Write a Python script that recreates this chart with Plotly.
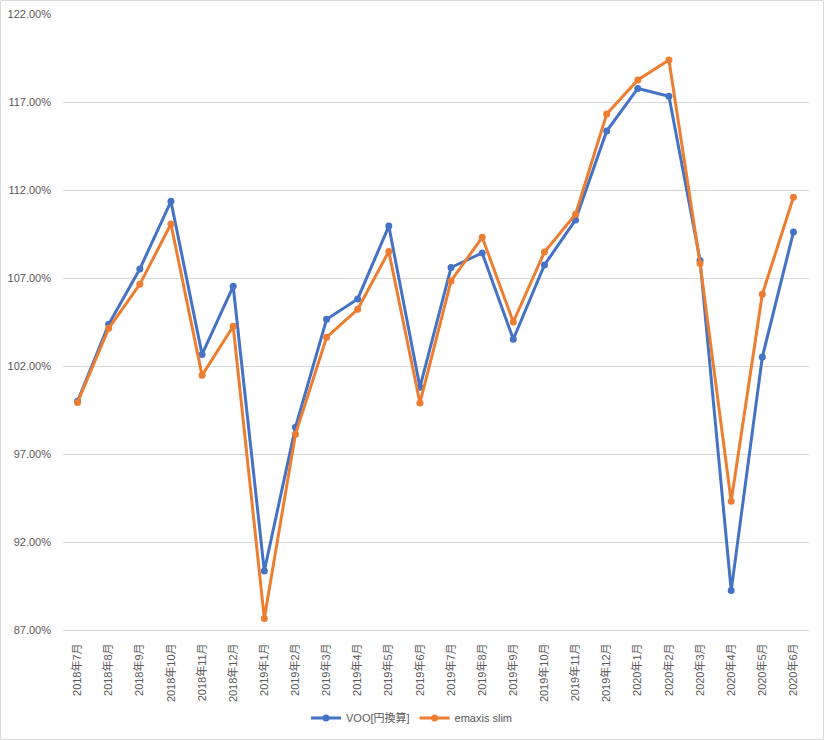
import plotly.graph_objects as go

months = ["2018年7月", "2018年8月", "2018年9月", "2018年10月", "2018年11月", "2018年12月",
          "2019年1月", "2019年2月", "2019年3月", "2019年4月", "2019年5月", "2019年6月",
          "2019年7月", "2019年8月", "2019年9月", "2019年10月", "2019年11月", "2019年12月",
          "2020年1月", "2020年2月", "2020年3月", "2020年4月", "2020年5月", "2020年6月"]

voo = [1.0000, 1.0437, 1.0751, 1.1136, 1.0266, 1.0653,
       0.9035, 0.9852, 1.0465, 1.0581, 1.0995, 1.0079,
       1.0760, 1.0842, 1.0352, 1.0774, 1.1030, 1.1535,
       1.1777, 1.1733, 1.0800, 0.8924, 1.0251, 1.0961]

emaxis = [0.9993, 1.0414, 1.0664, 1.1007, 1.0147, 1.0426,
          0.8766, 0.9812, 1.0363, 1.0522, 1.0851, 0.9990,
          1.0683, 1.0931, 1.0450, 1.0848, 1.1062, 1.1632,
          1.1825, 1.1939, 1.0782, 0.9431, 1.0608, 1.1159]

y_ticks = [0.87, 0.92, 0.97, 1.02, 1.07, 1.12, 1.17, 1.22]

W, H = 824, 740
ML, MR, MT, MB = 62, 15, 14, 110
FONT = "Liberation Sans, Noto Sans CJK JP, sans-serif"

fig = go.Figure()
fig.add_trace(go.Scatter(x=months, y=voo, mode="lines+markers", name="VOO[円換算]",
                         line=dict(color="#4472C4", width=3),
                         marker=dict(color="#4472C4", size=7)))
fig.add_trace(go.Scatter(x=months, y=emaxis, mode="lines+markers", name="emaxis slim",
                         line=dict(color="#ED7D31", width=3),
                         marker=dict(color="#ED7D31", size=7)))

pw = W - ML - MR
ph = H - MT - MB
fig.add_shape(type="rect", xref="paper", yref="paper",
              x0=(0.5 - ML) / pw, x1=(W - 0.5 - ML) / pw,
              y0=-(MB - 0.5) / ph, y1=(ph + MT - 0.5) / ph,
              line=dict(color="#D9D9D9", width=1), layer="below")

fig.update_layout(
    width=W, height=H,
    margin=dict(l=ML, r=MR, t=MT, b=MB, autoexpand=False),
    paper_bgcolor="white", plot_bgcolor="white",
    font=dict(family=FONT, size=11, color="#595959"),
    showlegend=True,
    legend=dict(orientation="h", xref="container", x=0.5, xanchor="center",
                yref="container", y=22 / H, yanchor="middle",
                font=dict(size=11, color="#595959"), itemwidth=30),
    xaxis=dict(type="category", tickangle=-90, showgrid=False, showline=True,
               linecolor="#D9D9D9", linewidth=1, ticks="", ticklabelstandoff=8,
               range=[-0.5, len(months) - 0.5], fixedrange=True, automargin=False),
    yaxis=dict(range=[0.87, 1.22], tickvals=y_ticks, tickformat=".2%",
               showgrid=True, gridcolor="#D9D9D9", gridwidth=1, zeroline=False,
               showline=False, ticks="", ticklabelstandoff=10, fixedrange=True,
               automargin=False),
)

fig.write_html("out.html")
